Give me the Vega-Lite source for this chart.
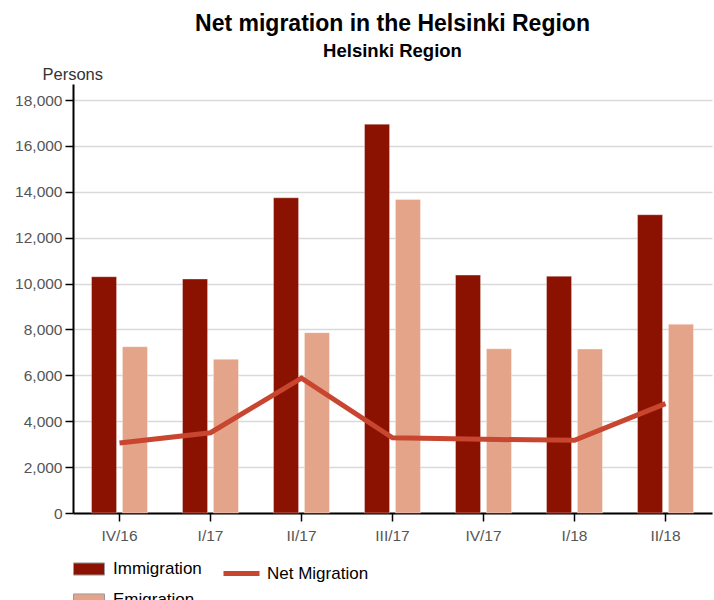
{
  "$schema": "https://vega.github.io/schema/vega-lite/v6.json",
  "width": 639,
  "height": 429,
  "autosize": {"type": "none"},
  "padding": {"left": 73, "top": 84, "right": 2, "bottom": 87},
  "background": "white",
  "title": {
    "text": "Net migration in the Helsinki Region",
    "subtitle": "Helsinki Region",
    "font": "Liberation Sans",
    "fontSize": 23,
    "fontWeight": "bold",
    "color": "#000000",
    "subtitleFont": "Liberation Sans",
    "subtitleFontSize": 18.5,
    "subtitleFontWeight": "bold",
    "subtitleColor": "#000000",
    "anchor": "middle",
    "frame": "group",
    "offset": 6,
    "subtitlePadding": 6
  },
  "config": {
    "view": {"stroke": null},
    "axis": {"labelFont": "Liberation Sans", "titleFont": "Liberation Sans"},
    "legend": {"labelFont": "Liberation Sans"}
  },
  "data": {
    "values": [
      {"quarter": "IV/16", "type": "Immigration", "value": 10300},
      {"quarter": "I/17", "type": "Immigration", "value": 10200},
      {"quarter": "II/17", "type": "Immigration", "value": 13740},
      {"quarter": "III/17", "type": "Immigration", "value": 16950},
      {"quarter": "IV/17", "type": "Immigration", "value": 10370},
      {"quarter": "I/18", "type": "Immigration", "value": 10320},
      {"quarter": "II/18", "type": "Immigration", "value": 13000},
      {"quarter": "IV/16", "type": "Emigration", "value": 7250},
      {"quarter": "I/17", "type": "Emigration", "value": 6700},
      {"quarter": "II/17", "type": "Emigration", "value": 7860},
      {"quarter": "III/17", "type": "Emigration", "value": 13670},
      {"quarter": "IV/17", "type": "Emigration", "value": 7160},
      {"quarter": "I/18", "type": "Emigration", "value": 7150},
      {"quarter": "II/18", "type": "Emigration", "value": 8230},
      {"quarter": "IV/16", "type": "Net Migration", "value": 3050},
      {"quarter": "I/17", "type": "Net Migration", "value": 3500},
      {"quarter": "II/17", "type": "Net Migration", "value": 5880},
      {"quarter": "III/17", "type": "Net Migration", "value": 3280},
      {"quarter": "IV/17", "type": "Net Migration", "value": 3210},
      {"quarter": "I/18", "type": "Net Migration", "value": 3170},
      {"quarter": "II/18", "type": "Net Migration", "value": 4770}
    ]
  },
  "encoding": {
    "x": {
      "field": "quarter",
      "type": "nominal",
      "sort": null,
      "scale": {"paddingInner": 0.385, "paddingOuter": 0.2035},
      "axis": {
        "title": null,
        "labelAngle": 0,
        "labelFontSize": 15.5,
        "labelColor": "#555555",
        "labelPadding": 7,
        "tickSize": 8,
        "tickColor": "#000000",
        "tickWidth": 1.5,
        "domainColor": "#000000",
        "domainWidth": 2,
        "grid": false
      }
    },
    "y": {
      "field": "value",
      "type": "quantitative",
      "scale": {"domain": [0, 18700], "nice": false},
      "axis": {
        "title": "Persons",
        "titleAngle": 0,
        "titleAlign": "left",
        "titleBaseline": "bottom",
        "titleX": -31,
        "titleY": -2,
        "titleFontSize": 16.5,
        "titleFontWeight": "normal",
        "titleColor": "#333333",
        "values": [0, 2000, 4000, 6000, 8000, 10000, 12000, 14000, 16000, 18000],
        "format": ",d",
        "labelFontSize": 15.5,
        "labelColor": "#555555",
        "labelPadding": 3,
        "tickSize": 8,
        "tickColor": "#000000",
        "tickWidth": 1.5,
        "domainColor": "#000000",
        "domainWidth": 2,
        "grid": true,
        "gridColor": "#d9d9d9",
        "gridWidth": 1.5
      }
    }
  },
  "layer": [
    {
      "transform": [{"filter": "datum.type !== 'Net Migration'"}],
      "mark": {"type": "bar", "stroke": "#ffffff", "strokeOpacity": 0.35, "strokeWidth": 1},
      "encoding": {
        "xOffset": {
          "field": "type",
          "sort": ["Immigration", "Emigration"],
          "scale": {"paddingInner": 0.19}
        },
        "fill": {
          "field": "type",
          "type": "nominal",
          "scale": {"domain": ["Immigration", "Emigration"], "range": ["#8B1200", "#E3A48A"]},
          "legend": {
            "title": null,
            "orient": "none",
            "legendX": 0,
            "legendY": 469,
            "direction": "vertical",
            "symbolType": "M-1,-0.39H1V0.39H-1Z",
            "symbolSize": 961,
            "symbolStrokeColor": "#9a9a9a",
            "symbolStrokeWidth": 1,
            "labelFontSize": 17,
            "labelColor": "#000000",
            "labelOffset": 8,
            "rowPadding": 6
          }
        }
      }
    },
    {
      "transform": [{"filter": "datum.type === 'Net Migration'"}],
      "mark": {"type": "line", "strokeWidth": 5},
      "encoding": {
        "stroke": {
          "field": "type",
          "type": "nominal",
          "scale": {"domain": ["Net Migration"], "range": ["#C8452F"]},
          "legend": {
            "title": null,
            "orient": "none",
            "legendX": 148,
            "legendY": 469,
            "symbolType": "stroke",
            "symbolSize": 1296,
            "symbolStrokeWidth": 5,
            "labelFontSize": 17,
            "labelColor": "#000000",
            "labelOffset": 5
          }
        }
      }
    }
  ]
}
